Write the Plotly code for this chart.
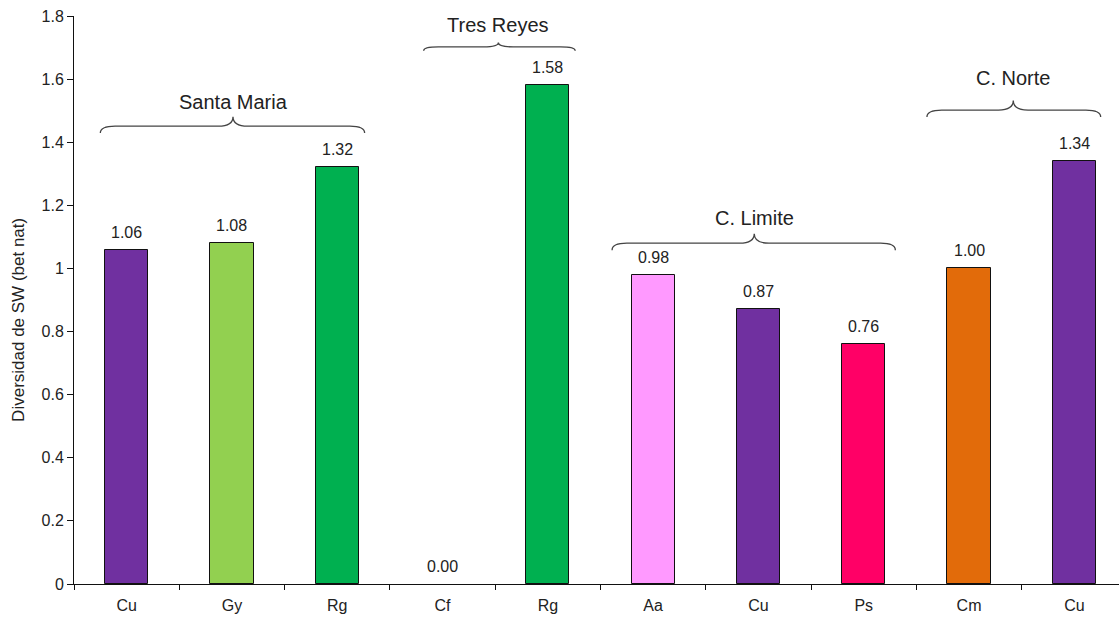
import plotly.graph_objects as go

# Shannon-Wiener diversity by species and site
species = ["Cu", "Gy", "Rg", "Cf", "Rg", "Aa", "Cu", "Ps", "Cm", "Cu"]
diversity = [1.06, 1.08, 1.32, 0.00, 1.58, 0.98, 0.87, 0.76, 1.00, 1.34]
bar_colors = ["#7030A0", "#92D050", "#00B050", "#00B050", "#00B050",
              "#FF99FF", "#7030A0", "#FF0066", "#E26B0A", "#7030A0"]

# Site groups: name, brace start, brace end, brace tip, brace level, label level
site_names = ["Santa Maria", "Tres Reyes", "C. Limite", "C. Norte"]
brace_x0 = [-0.25, 2.82, 4.61, 7.60]
brace_x1 = [2.26, 4.26, 7.30, 9.25]
brace_xm = [1.01, 3.53, 5.96, 8.42]
brace_y = [1.451, 1.702, 1.080, 1.502]
label_y = [1.526, 1.772, 1.160, 1.603]

y_ticks = [0, 0.2, 0.4, 0.6, 0.8, 1.0, 1.2, 1.4, 1.6, 1.8]
y_title = "Diversidad de SW (bet nat)"

FONT = "Liberation Sans, Arial, sans-serif"
TXT = "#222222"

x_pos = list(range(len(species)))
x_range = [-0.5, 9.424]

fig = go.Figure()
fig.add_trace(go.Bar(
    x=x_pos, y=diversity, width=0.41,
    marker=dict(color=bar_colors,
                line=dict(color="#111111",
                          width=[1 if v > 0 else 0 for v in diversity])),
    hoverinfo="skip", showlegend=False,
))

# value labels above the bars
for xi, v in zip(x_pos, diversity):
    fig.add_annotation(x=xi, y=v, text=f"{v:.2f}", showarrow=False,
                       yanchor="bottom", yshift=7,
                       font=dict(family=FONT, size=16, color=TXT))


def brace_path(x0, x1, xm, y, drop=0.022, rise=0.03, dx=0.14):
    return (f"M {x0},{y - drop} Q {x0},{y} {x0 + dx},{y} "
            f"L {xm - dx},{y} Q {xm},{y} {xm},{y + rise} "
            f"Q {xm},{y} {xm + dx},{y} "
            f"L {x1 - dx},{y} Q {x1},{y} {x1},{y - drop}")


for name, a, b, m, yb, yl in zip(site_names, brace_x0, brace_x1, brace_xm,
                                 brace_y, label_y):
    small = name == "Tres Reyes"
    fig.add_shape(type="path", xref="x", yref="y",
                  path=brace_path(a, b, m, yb,
                                  drop=0.012 if small else 0.022,
                                  rise=0.014 if small else 0.03),
                  line=dict(color="#444444", width=1.3))
    fig.add_annotation(x=m, y=yl, text=name, showarrow=False,
                       font=dict(family=FONT, size=20, color=TXT))

# vertical axis title, sitting a little below the plot's midline
fig.add_annotation(x=0, y=0.465, xref="paper", yref="paper",
                   xanchor="center", yanchor="middle", xshift=-55,
                   text=y_title, textangle=-90, showarrow=False,
                   font=dict(family=FONT, size=17, color=TXT))

fig.update_layout(
    width=1119, height=620,
    margin=dict(l=74, r=0, t=16, b=36),
    paper_bgcolor="white", plot_bgcolor="white",
    font=dict(family=FONT, color=TXT),
    bargap=0,
    xaxis=dict(
        range=x_range, tickvals=x_pos, ticktext=species,
        ticks="outside", ticklen=7, tickcolor="rgba(0,0,0,0)",
        tickfont=dict(size=16, color=TXT),
        showgrid=False, zeroline=False, showline=False,
    ),
    xaxis2=dict(
        range=x_range, overlaying="x", anchor="y", side="bottom",
        tickvals=[i - 0.5 for i in range(len(species) + 1)],
        showticklabels=False, ticks="outside", ticklen=5,
        tickcolor="#111111", showline=True, linecolor="#111111",
        linewidth=1, showgrid=False, zeroline=False,
    ),
    yaxis=dict(
        range=[0, 1.8], tickvals=y_ticks,
        ticktext=[f"{t:g}" for t in y_ticks],
        ticks="outside", ticklen=6, tickcolor="#111111",
        showline=True, linecolor="#111111", linewidth=1,
        showgrid=False, zeroline=False,
        tickfont=dict(size=16, color=TXT),
    ),
)

# an empty trace keeps the boundary-tick axis attached
fig.add_trace(go.Scatter(x=[], y=[], xaxis="x2", yaxis="y",
                         showlegend=False, hoverinfo="skip"))

fig.write_html("out.html")
